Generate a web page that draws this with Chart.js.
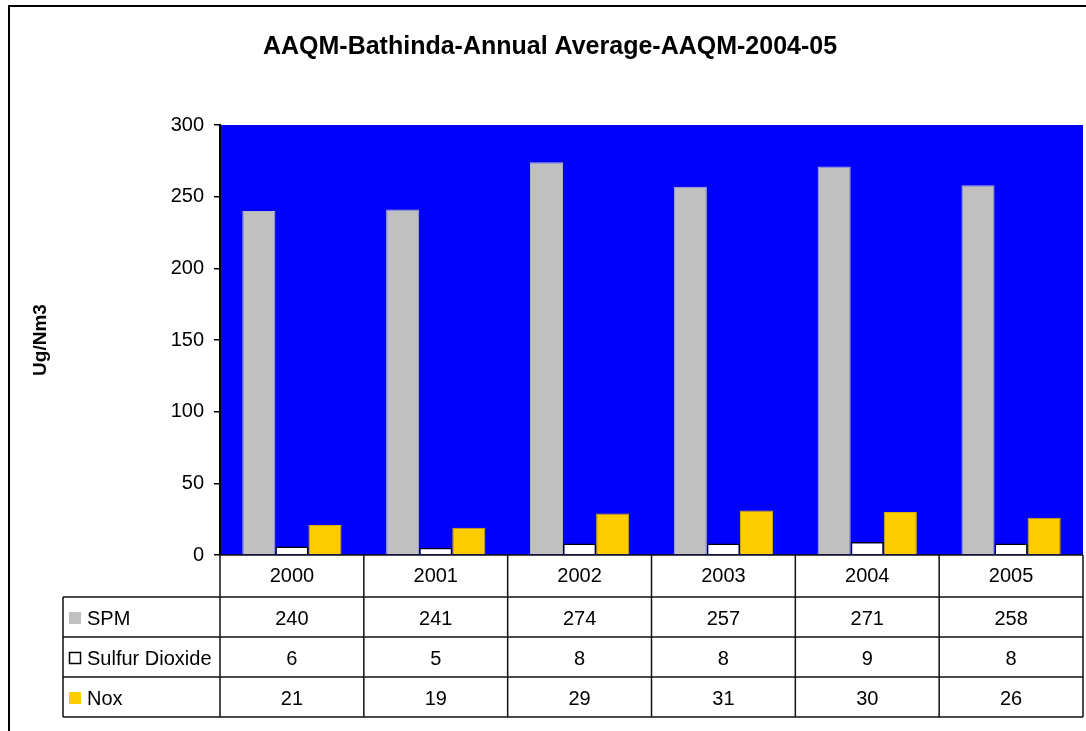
<!DOCTYPE html>
<html>
<head>
<meta charset="utf-8">
<script src="https://cdn.jsdelivr.net/npm/chart.js@4.4.0/dist/chart.umd.min.js"></script>
<style>
  body { margin: 0; background: #fff; }
  canvas { display: block; }
</style>
</head>
<body>
<canvas id="chart" width="1086" height="731"></canvas>
<script>
const years = ["2000", "2001", "2002", "2003", "2004", "2005"];
const spm = [240, 241, 274, 257, 271, 258];
const so2 = [6, 5, 8, 8, 9, 8];
const nox = [21, 19, 29, 31, 30, 26];
const yTicks = [0, 50, 100, 150, 200, 250, 300];

const FONT = "'Liberation Sans', Arial, sans-serif";

// table under the plot, plus frame and blue plot area
const tablePlugin = {
    id: "dataTable",
    beforeDraw(chart) {
        const { ctx, chartArea: a } = chart;
        ctx.save();
        ctx.fillStyle = "#0000FF";
        ctx.fillRect(a.left, a.top, a.right - a.left, a.bottom - a.top);
        ctx.restore();
    },
    afterDraw(chart) {
        const { ctx, chartArea: a } = chart;
        const x = chart.scales.x;
        const n = years.length;
        const colW = (x.right - x.left) / n;
        const legendLeft = 63;
        const headerBottom = a.bottom + 42;
        const rowH = 40;
        const rows = chart.data.datasets;
        const tableBottom = headerBottom + rowH * rows.length;

        ctx.save();

        // outer frame
        ctx.strokeStyle = "#000";
        ctx.lineWidth = 2;
        ctx.beginPath();
        ctx.moveTo(9, 731);
        ctx.lineTo(9, 6);
        ctx.lineTo(1086, 6);
        ctx.stroke();

        // grid lines of the table
        ctx.strokeStyle = "#111";
        ctx.lineWidth = 1.5;
        ctx.beginPath();
        ctx.moveTo(a.left, a.bottom);
        ctx.lineTo(a.right, a.bottom);
        for (let r = 0; r <= rows.length; r++) {
            const y = headerBottom + r * rowH;
            ctx.moveTo(legendLeft, y);
            ctx.lineTo(a.right, y);
        }
        ctx.moveTo(legendLeft, headerBottom);
        ctx.lineTo(legendLeft, tableBottom);
        for (let i = 0; i <= n; i++) {
            const cx = x.left + i * colW;
            ctx.moveTo(cx, a.bottom);
            ctx.lineTo(cx, tableBottom);
        }
        ctx.stroke();

        ctx.font = "20px " + FONT;
        ctx.fillStyle = "#000";
        ctx.textBaseline = "middle";

        rows.forEach((ds, r) => {
            const cy = headerBottom + r * rowH + rowH / 2;
            // legend key
            ctx.fillStyle = ds.backgroundColor;
            ctx.fillRect(69, cy - 5, 12, 12);
            if (ds.backgroundColor === "#FFFFFF") {
                ctx.strokeStyle = "#000";
                ctx.lineWidth = 1.5;
                ctx.strokeRect(69.5, cy - 4.5, 11, 11);
            }
            ctx.fillStyle = "#000";
            ctx.textAlign = "left";
            ctx.fillText(ds.label, 87, cy + 2);

            ctx.textAlign = "center";
            ds.data.forEach((v, i) => {
                ctx.fillText(String(v), x.getPixelForValue(i), cy + 2);
            });
        });

        ctx.restore();
    }
};

new Chart(document.getElementById("chart"), {
    type: "bar",
    data: {
        labels: years,
        datasets: [
            {
                label: "SPM",
                data: spm,
                backgroundColor: "#C0C0C0",
                borderColor: "#B4B4C8",
                borderWidth: 1
            },
            {
                label: "Sulfur Dioxide",
                data: so2,
                backgroundColor: "#FFFFFF",
                borderColor: "#000000",
                borderWidth: 1.5
            },
            {
                label: "Nox",
                data: nox,
                backgroundColor: "#FFCC00",
                borderColor: "#D9AD00",
                borderWidth: 1
            }
        ]
    },
    options: {
        responsive: false,
        animation: false,
        devicePixelRatio: 1,
        layout: {
            padding: { left: 17, top: 0, right: 3, bottom: 134 }
        },
        datasets: {
            bar: {
                categoryPercentage: 0.69,
                barPercentage: 1
            }
        },
        plugins: {
            legend: { display: false },
            tooltip: { enabled: false },
            title: {
                display: true,
                text: "AAQM-Bathinda-Annual Average-AAQM-2004-05",
                color: "#000",
                font: { family: FONT, size: 25, weight: "bold" },
                padding: { top: 32, bottom: 63 }
            }
        },
        scales: {
            x: {
                afterFit: s => { s.height = 42; },
                grid: { display: false, drawTicks: false },
                border: { display: false },
                ticks: {
                    color: "#000",
                    font: { family: FONT, size: 20 },
                    padding: 9
                }
            },
            y: {
                min: 0,
                max: 300,
                afterFit: s => { s.width = 203; },
                afterBuildTicks: s => { s.ticks = yTicks.map(v => ({ value: v })); },
                border: { display: true, color: "#000", width: 2 },
                grid: {
                    drawOnChartArea: false,
                    color: "#000",
                    tickLength: 6,
                    lineWidth: 1.5
                },
                ticks: {
                    color: "#000",
                    font: { family: FONT, size: 20 },
                    padding: 10
                },
                title: {
                    display: true,
                    text: "Ug/Nm3",
                    color: "#000",
                    font: { family: FONT, size: 19, weight: "bold" },
                    padding: { top: 12 }
                }
            }
        }
    },
    plugins: [tablePlugin]
});
</script>
</body>
</html>
